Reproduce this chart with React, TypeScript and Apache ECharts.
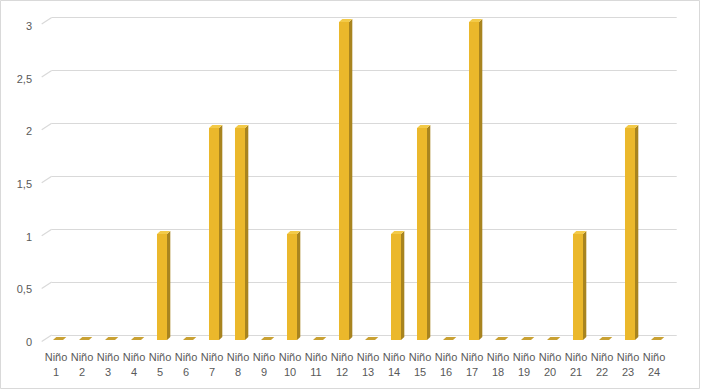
import React, { useEffect, useRef } from "react";
import * as echarts from "echarts";

// Children (Niño 1 … Niño 24) and their counts
const categories = [
  "Niño 1", "Niño 2", "Niño 3", "Niño 4", "Niño 5", "Niño 6",
  "Niño 7", "Niño 8", "Niño 9", "Niño 10", "Niño 11", "Niño 12",
  "Niño 13", "Niño 14", "Niño 15", "Niño 16", "Niño 17", "Niño 18",
  "Niño 19", "Niño 20", "Niño 21", "Niño 22", "Niño 23", "Niño 24",
];
const values = [0, 0, 0, 0, 1, 0, 2, 2, 0, 1, 0, 3, 0, 1, 2, 0, 3, 0, 0, 0, 1, 0, 2, 0];
const yTicks = [0, 0.5, 1, 1.5, 2, 2.5, 3];

const GRID_COLOR = "#D9D9D9";
const TEXT_COLOR = "#595959";
const FRONT = "#EBB82B";
const SIDE = "#A8841F";
const TOP = "#F3CA48";
const FLAT = "#C9A133";

export default function App() {
  const ref = useRef<HTMLDivElement>(null);

  useEffect(() => {
    if (!ref.current) return;
    const chart = echarts.init(ref.current, null, { renderer: "svg" });

    const option: any = {
      animation: false,
      backgroundColor: "#fff",
      grid: [
        // back wall (gridlines)
        { left: 51.7, right: 24.3, top: 17.5, bottom: 55 },
        // front plane (bars + category labels)
        { left: 43, right: 34, top: 22, bottom: 50 },
        // value labels
        { left: 42, right: 34, top: 26, bottom: 48 },
      ],
      xAxis: [
        { type: "category", gridIndex: 0, data: categories, show: false },
        {
          type: "category",
          gridIndex: 1,
          data: categories,
          axisLine: { show: false },
          axisTick: { show: false },
          axisLabel: {
            interval: 0,
            margin: 9,
            color: TEXT_COLOR,
            fontSize: 11,
            lineHeight: 15,
            fontFamily: "Liberation Sans",
            formatter: (s: string) => s.replace(" ", "\n"),
          },
        },
        { type: "category", gridIndex: 2, data: categories, show: false },
      ],
      yAxis: [
        {
          type: "value",
          gridIndex: 0,
          min: 0,
          max: 3,
          interval: 0.5,
          axisLabel: { show: false },
          axisLine: { show: false },
          axisTick: { show: false },
          splitLine: { lineStyle: { color: GRID_COLOR, width: 1.2 } },
        },
        { type: "value", gridIndex: 1, min: 0, max: 3, show: false },
        {
          type: "value",
          gridIndex: 2,
          min: 0,
          max: 3,
          interval: 0.5,
          axisLine: { show: false },
          axisTick: { show: false },
          splitLine: { show: false },
          axisLabel: {
            margin: 10,
            color: TEXT_COLOR,
            fontSize: 11,
            fontFamily: "Liberation Sans",
            formatter: (v: number) => String(v).replace(".", ","),
          },
        },
      ],
      series: [
        {
          // slanted floor edges of each gridline
          type: "custom",
          xAxisIndex: 0,
          yAxisIndex: 0,
          data: yTicks.map((v) => [0, v]),
          silent: true,
          renderItem: (_params: any, api: any) => {
            const p = api.coord([0, api.value(1)]);
            const left = p[0] - api.size([1, 0])[0] / 2;
            return {
              type: "line",
              shape: { x1: left - 10, y1: p[1] + 6.5, x2: left, y2: p[1] },
              style: { stroke: GRID_COLOR, lineWidth: 1.2 },
            };
          },
        },
        {
          // 3D columns
          type: "custom",
          xAxisIndex: 1,
          yAxisIndex: 1,
          data: values.map((v, i) => [i, v]),
          renderItem: (_params: any, api: any) => {
            const i = api.value(0);
            const v = api.value(1);
            const base = api.coord([i, 0]);
            const top = api.coord([i, v]);
            const w = api.size([1, 0])[0] * 0.385;
            const x0 = base[0] + 2 - w / 2;
            const x1 = x0 + w;
            const dx = 3.3;
            const dy = 3;
            const by = base[1];
            const ty = top[1];
            if (v === 0) {
              return {
                type: "polygon",
                shape: {
                  points: [
                    [x0, by],
                    [x1, by],
                    [x1 + dx, by - dy],
                    [x0 + dx, by - dy],
                  ],
                },
                style: { fill: FLAT },
              };
            }
            return {
              type: "group",
              children: [
                {
                  type: "rect",
                  shape: { x: x0, y: ty, width: w, height: by - ty },
                  style: { fill: FRONT },
                },
                {
                  type: "polygon",
                  shape: {
                    points: [
                      [x1, ty],
                      [x1 + dx, ty - dy],
                      [x1 + dx, by - dy],
                      [x1, by],
                    ],
                  },
                  style: { fill: SIDE },
                },
                {
                  type: "polygon",
                  shape: {
                    points: [
                      [x0, ty],
                      [x1, ty],
                      [x1 + dx, ty - dy],
                      [x0 + dx, ty - dy],
                    ],
                  },
                  style: { fill: TOP },
                },
              ],
            };
          },
        },
      ],
      graphic: [
        {
          type: "rect",
          shape: { x: 0.5, y: 0.5, width: 699, height: 388 },
          style: { fill: "none", stroke: GRID_COLOR, lineWidth: 1 },
          silent: true,
          z: 100,
        },
      ],
    };

    chart.setOption(option);
    return () => chart.dispose();
  }, []);

  return (
    <div
      ref={ref}
      style={{ position: "fixed", left: 0, top: 0, width: 701, height: 390 }}
    />
  );
}
